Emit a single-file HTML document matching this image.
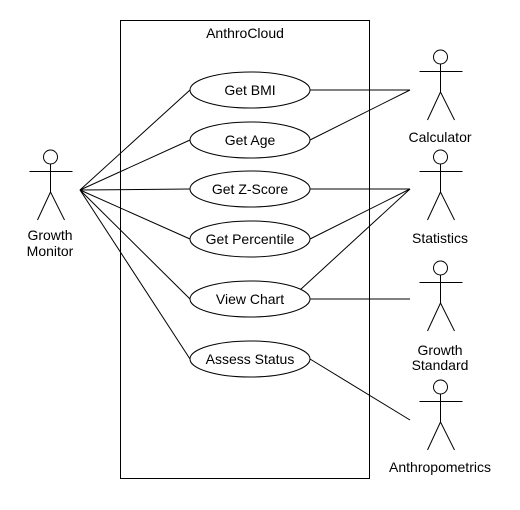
<!DOCTYPE html>
<html><head><meta charset="utf-8"><style>
body{margin:0;background:#fff}
svg{display:block}
text{font-family:"Liberation Sans",Arial,sans-serif;font-size:14px;fill:#000}
</style></head><body>
<svg width="520" height="510" viewBox="0 0 520 510">
<g stroke="#000" stroke-width="1" fill="none">
<rect x="120.5" y="20.5" width="249" height="458" fill="#fff"/>
</g>
<text x="245" y="38" text-anchor="middle">AnthroCloud</text>
<g id="assoc" stroke="#000" stroke-width="1" fill="none"></g>
<g id="uc"></g>
<g id="actors"></g>
</svg>
<script>
const NS='http://www.w3.org/2000/svg';
const useCases=[['get-bmi','Get BMI',90],['get-age','Get Age',140],['get-z-score','Get Z-Score',189],['get-percentile','Get Percentile',239],['view-chart','View Chart',299],['assess-status','Assess Status',359]];
const actors=[['growth-monitor',['Growth','Monitor'],50,150,[240,256]],['calculator',['Calculator'],440,50,[142]],['statistics',['Statistics'],440,150,[243]],['growth-standard',['Growth','Standard'],440,261,[355,370]],['anthropometrics',['Anthropometrics'],440,380,[472]]];
const links=[[80,190,190,90],[80,190,190,140],[80,190,190,189],[80,190,190,239],[80,190,190,299],[80,190,190,359],
[310,90,410,90],[310,140,410,90],[310,189,410,189],[310,239,410,189],[300,290,410,189],[310,299,410,299],[310,359,410,420]];
function mk(t,a,p){const e=document.createElementNS(NS,t);for(const k in a)e.setAttribute(k,a[k]);p.appendChild(e);return e;}
const A=document.getElementById('assoc');
links.forEach(l=>{const e=mk('line',{x1:l[0],y1:l[1],x2:l[2],y2:l[3]},A);

});
const U=document.getElementById('uc');
useCases.forEach(u=>{const g=mk('g',{},U);


mk('ellipse',{cx:250,cy:u[2],rx:60,ry:18,fill:'#fff',stroke:'#000'},g);
const t=mk('text',{x:250,y:u[2]+5,'text-anchor':'middle'},g);t.textContent=u[1];});
const G=document.getElementById('actors');
actors.forEach(a=>{const g=mk('g',{stroke:'#000',fill:'none'},G);


const x=a[2]+0.5,t=a[3];
mk('circle',{cx:x,cy:t+7,r:7,fill:'#fff'},g);
mk('line',{x1:x,y1:t+14,x2:x,y2:t+42},g);
mk('line',{x1:x-21,y1:t+21.5,x2:x+22,y2:t+21.5},g);
mk('line',{x1:x,y1:t+42,x2:x-13,y2:t+70},g);
mk('line',{x1:x,y1:t+42,x2:x+14,y2:t+70},g);
a[1].forEach((s,i)=>{const tx=mk('text',{x:a[2],y:a[4][i],'text-anchor':'middle',stroke:'none'},g);tx.textContent=s;});});
</script>
</body></html>
